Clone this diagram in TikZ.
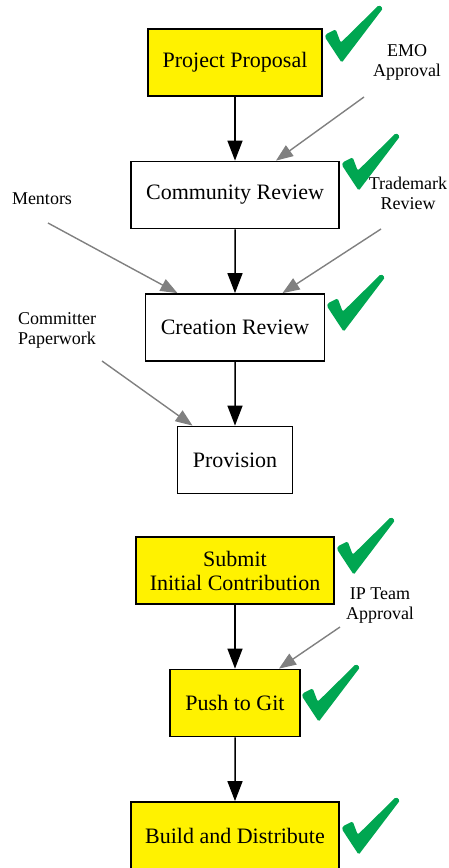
\documentclass[tikz,border=0pt]{standalone}
\usepackage{fontspec}
\setmainfont{Liberation Serif}
\usetikzlibrary{arrows.meta}
\definecolor{stageyellow}{HTML}{FFF200}
\definecolor{tickgreen}{HTML}{00A651}
\definecolor{feedgray}{HTML}{808080}
\tikzset{
    stage/.style={draw, line width=1.8pt, minimum height=67pt, inner sep=0pt,
        align=center, font=\fontsize{22}{24}\selectfont},
    done/.style={stage, fill=stageyellow},
    note/.style={align=center, inner sep=0pt, font=\fontsize{18}{20}\selectfont},
    feed/.style={draw=feedgray, line width=1.4pt,
        -{Triangle[width=13pt,length=17pt]}},
    tick/.pic={
        \fill[tickgreen, rounded corners=1.5pt] (2.7,28.3) -- (12.7,23.3) -- (17.7,36.7)
            -- (56,-1) -- (60,2.3) -- (18.7,56.7) -- (2,31.3) -- cycle;
    },
}
\begin{document}
\begin{tikzpicture}
[
    x=1pt, y=-1pt,
    level distance=132.5pt,
    edge from parent/.style={draw, line width=1.5pt, -{Triangle[width=15pt,length=20pt]}},
]
\useasboundingbox (0,0) rectangle (448,868);
\node[done, minimum width=174pt] (pp) at (235,62.5) {Project Proposal}
    child {node[stage, minimum width=208pt] (cr) {Community Review}
    child {node[stage, minimum width=179pt] (crv) {Creation Review}
    child {node[stage, minimum width=115pt] (prov) {Provision}
}}};
\node[done, minimum width=198pt] (sub) at (235,570.5) {Submit\\Initial Contribution}
    child {node[done, minimum width=130pt] (push) {Push to Git}
    child {node[done, minimum width=208pt] (build) {Build and Distribute}
}};

\node[note] (emo) at (407,62) {EMO\\Approval};
\node[note] (tm) at (408,193) {Trademark\\Review};
\node[note] (mentors) at (42,199) {Mentors};
\node[note] (paper) at (57,330) {Committer\\Paperwork};
\node[note] (ipteam) at (380,606) {IP Team\\Approval};

\coordinate (emo-in) at (364,97);
\coordinate (tm-in) at (381,229);
\coordinate (mentors-in) at (48,223);
\coordinate (paper-in) at (102,361);
\coordinate (ipteam-in) at (340,627);

\draw[feed] (emo-in) -- ([xshift=41pt]cr.north);
\draw[feed] (tm-in) -- ([xshift=47.5pt]crv.north);
\draw[feed] (mentors-in) -- ([xshift=-57.5pt]crv.north);
\draw[feed] (paper-in) -- ([xshift=-42.5pt]prov.north);
\draw[feed] (ipteam-in) -- ([xshift=44pt]push.north);

\pic at (323,6) {tick};
\pic at (340,134) {tick};
\pic at (325,275) {tick};
\pic at (335,518) {tick};
\pic at (300,665) {tick};
\pic at (340,798) {tick};
\end{tikzpicture}
\end{document}
